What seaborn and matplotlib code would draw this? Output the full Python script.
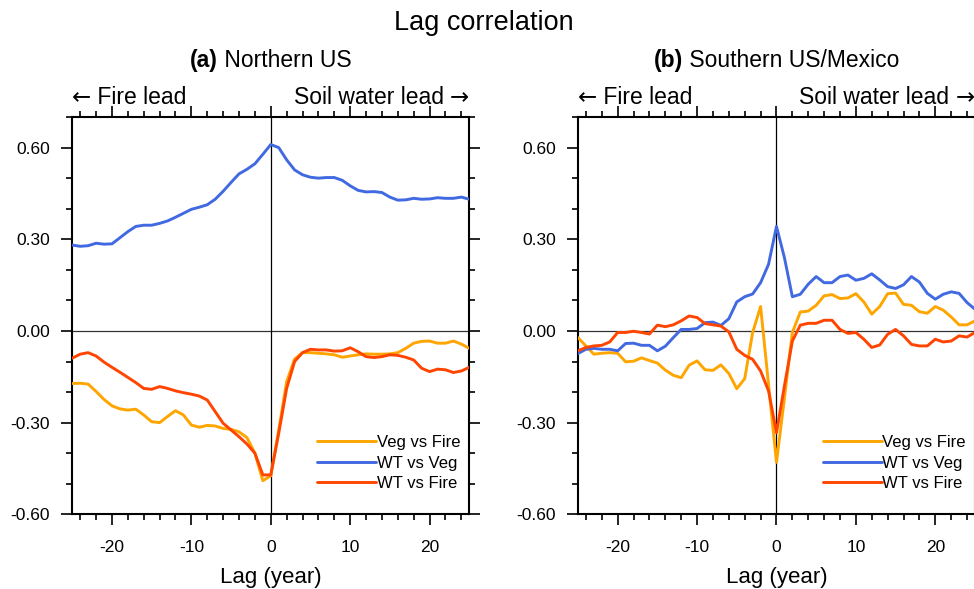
import numpy as np
import pandas as pd
import seaborn as sns
import matplotlib.pyplot as plt
from matplotlib.ticker import MultipleLocator
from matplotlib.lines import Line2D

# lag axis, years
lags = list(range(-25, 26))

# (a) Northern US
north_veg_fire = [-0.172, -0.171, -0.174, -0.198, -0.224, -0.245, -0.255, -0.259, -0.256, -0.275,
                  -0.297, -0.300, -0.280, -0.261, -0.275, -0.308, -0.315, -0.309, -0.311, -0.319,
                  -0.322, -0.330, -0.349, -0.400, -0.490, -0.474, -0.324, -0.166, -0.092, -0.071,
                  -0.071, -0.073, -0.075, -0.078, -0.086, -0.082, -0.078, -0.075, -0.076, -0.076,
                  -0.075, -0.071, -0.057, -0.040, -0.034, -0.033, -0.040, -0.040, -0.033, -0.043,
                  -0.057]
north_wt_veg = [0.281, 0.277, 0.279, 0.287, 0.284, 0.285, 0.305, 0.325, 0.342, 0.346,
                0.346, 0.352, 0.360, 0.372, 0.385, 0.398, 0.405, 0.413, 0.431, 0.457,
                0.486, 0.514, 0.529, 0.547, 0.578, 0.610, 0.600, 0.560, 0.527, 0.511,
                0.503, 0.500, 0.502, 0.502, 0.493, 0.475, 0.460, 0.455, 0.456, 0.453,
                0.438, 0.428, 0.429, 0.434, 0.431, 0.432, 0.436, 0.434, 0.434, 0.438,
                0.431]
north_wt_fire = [-0.089, -0.076, -0.071, -0.082, -0.102, -0.119, -0.135, -0.152, -0.169, -0.188,
                 -0.191, -0.182, -0.188, -0.196, -0.202, -0.207, -0.213, -0.226, -0.264, -0.302,
                 -0.324, -0.346, -0.370, -0.400, -0.471, -0.471, -0.335, -0.188, -0.100, -0.071,
                 -0.060, -0.062, -0.062, -0.066, -0.065, -0.055, -0.068, -0.084, -0.087, -0.084,
                 -0.078, -0.080, -0.086, -0.095, -0.122, -0.133, -0.125, -0.127, -0.136, -0.131,
                 -0.119]

# (b) Southern US/Mexico
south_veg_fire = [-0.022, -0.049, -0.076, -0.073, -0.071, -0.073, -0.101, -0.099, -0.088, -0.097,
                  -0.105, -0.128, -0.145, -0.153, -0.112, -0.098, -0.127, -0.129, -0.111, -0.139,
                  -0.189, -0.156, -0.005, 0.080, -0.175, -0.430, -0.220, -0.005, 0.062, 0.065,
                  0.084, 0.115, 0.119, 0.106, 0.108, 0.122, 0.095, 0.055, 0.080, 0.122,
                  0.124, 0.087, 0.084, 0.063, 0.058, 0.080, 0.068, 0.046, 0.020, 0.020,
                  0.033]
south_wt_veg = [-0.074, -0.060, -0.057, -0.060, -0.060, -0.065, -0.041, -0.040, -0.047, -0.047,
                -0.065, -0.050, -0.022, 0.005, 0.005, 0.008, 0.027, 0.029, 0.018, 0.040,
                0.095, 0.112, 0.121, 0.158, 0.218, 0.342, 0.240, 0.112, 0.120, 0.153,
                0.178, 0.158, 0.158, 0.178, 0.183, 0.166, 0.172, 0.187, 0.167, 0.145,
                0.139, 0.151, 0.178, 0.160, 0.123, 0.104, 0.120, 0.128, 0.123, 0.093,
                0.071]
south_wt_fire = [-0.065, -0.054, -0.049, -0.047, -0.036, -0.005, -0.005, -0.001, -0.005, -0.010,
                 0.019, 0.014, 0.020, 0.033, 0.049, 0.044, 0.024, 0.020, 0.016, -0.003,
                 -0.060, -0.080, -0.093, -0.131, -0.196, -0.333, -0.180, -0.033, 0.019, 0.025,
                 0.025, 0.035, 0.035, 0.005, -0.008, -0.005, -0.027, -0.054, -0.046, -0.011,
                 0.005, -0.016, -0.044, -0.049, -0.049, -0.027, -0.036, -0.033, -0.016, -0.020,
                 -0.005]

pairs = ['Veg vs Fire', 'WT vs Veg', 'WT vs Fire']
colors = {'Veg vs Fire': '#FFA500', 'WT vs Veg': '#4169E1', 'WT vs Fire': '#FF4500'}
panels = [('(a)', ' Northern US', [north_veg_fire, north_wt_veg, north_wt_fire]),
          ('(b)', ' Southern US/Mexico', [south_veg_fire, south_wt_veg, south_wt_fire])]

sns.set_style('ticks', rc={'text.color': 'black', 'axes.labelcolor': 'black',
                           'xtick.color': 'black', 'ytick.color': 'black',
                           'axes.edgecolor': 'black'})
plt.rcParams['font.family'] = ['Liberation Sans', 'DejaVu Sans']

fig = plt.figure(figsize=(9.74, 5.89), dpi=100)
renderer = fig.canvas.get_renderer()
ax_pos = [[0.0742, 0.1268, 0.4076, 0.6745],
          [0.5934, 0.1268, 0.4076, 0.6745]]


def width_of(t, ax):
    return t.get_window_extent(renderer).width / ax.bbox.width


fig.text(0.4965, 0.949, 'Lag correlation', ha='center', va='baseline', fontsize=19.5)

for pos, (tag, name, series) in zip(ax_pos, panels):
    ax = fig.add_axes(pos)
    df = pd.concat([pd.DataFrame({'lag': lags, 'r': vals, 'pair': p})
                    for p, vals in zip(pairs, series)])
    ax.axhline(0, color='#333333', lw=0.9, zorder=1)
    ax.axvline(0, color='black', lw=0.9, zorder=1)
    sns.lineplot(data=df, x='lag', y='r', hue='pair', palette=colors, ax=ax,
                 linewidth=2.1, legend=False, zorder=3)

    ax.set_xlim(-25, 25)
    ax.set_ylim(-0.6, 0.7)
    ax.xaxis.set_major_locator(MultipleLocator(10))
    ax.xaxis.set_minor_locator(MultipleLocator(2))
    ax.yaxis.set_major_locator(MultipleLocator(0.3))
    ax.yaxis.set_minor_locator(MultipleLocator(0.1))
    ax.yaxis.set_major_formatter(lambda v, p: f'{v:.2f}'.replace('-0.00', '0.00'))
    ax.xaxis.set_major_formatter(lambda v, p: f'{v:.0f}')
    ax.tick_params(which='both', direction='out', top=True, right=True,
                   labeltop=False, labelright=False, width=1.2, labelsize=12.5)
    ax.tick_params(which='major', length=7.7)
    ax.tick_params(which='minor', length=4.0)
    ax.tick_params(axis='x', which='major', pad=11)
    ax.tick_params(axis='y', which='major', pad=8.3)
    for s in ax.spines.values():
        s.set_linewidth(1.5)
        s.set_visible(True)
    ax.set_xlabel('')
    ax.set_ylabel('')
    ax.text(0.5, -0.173, 'Lag (year)', transform=ax.transAxes, ha='center',
            va='baseline', fontsize=16)

    # panel title, bold tag + plain name, centred over the axes
    cx = pos[0] + pos[2] / 2
    t1 = fig.text(0, 0.8854, tag, ha='left', va='baseline', fontsize=16.5, fontweight='bold')
    t2 = fig.text(0, 0.8854, name, ha='left', va='baseline', fontsize=16.5)
    w1 = t1.get_window_extent(renderer).width / fig.bbox.width
    w2 = t2.get_window_extent(renderer).width / fig.bbox.width
    x0 = cx - (w1 + w2) / 2
    t1.set_x(x0)
    t2.set_x(x0 + w1)

    # lead/lag header: long arrows from DejaVu Sans
    ya = 1.0335
    a1 = ax.text(0.0, ya, '\u2190', transform=ax.transAxes, ha='left', va='baseline',
                 fontsize=16.5, family='DejaVu Sans')
    ax.text(width_of(a1, ax), ya, ' Fire lead', transform=ax.transAxes, ha='left',
            va='baseline', fontsize=16.5)
    a2 = ax.text(1.0, ya, '\u2192', transform=ax.transAxes, ha='right', va='baseline',
                 fontsize=16.5, family='DejaVu Sans')
    ax.text(1.0 - width_of(a2, ax), ya, 'Soil water lead ', transform=ax.transAxes,
            ha='right', va='baseline', fontsize=16.5)

    handles = [Line2D([], [], color=colors[p], lw=2.1) for p in pairs]
    ax.legend(handles, pairs, loc='lower right', bbox_to_anchor=(0.977, 0.058),
              frameon=False, fontsize=12, handlelength=3.5, handletextpad=0.05,
              labelspacing=0.34, borderpad=0, borderaxespad=0)

fig.savefig('out.png', dpi=100)
